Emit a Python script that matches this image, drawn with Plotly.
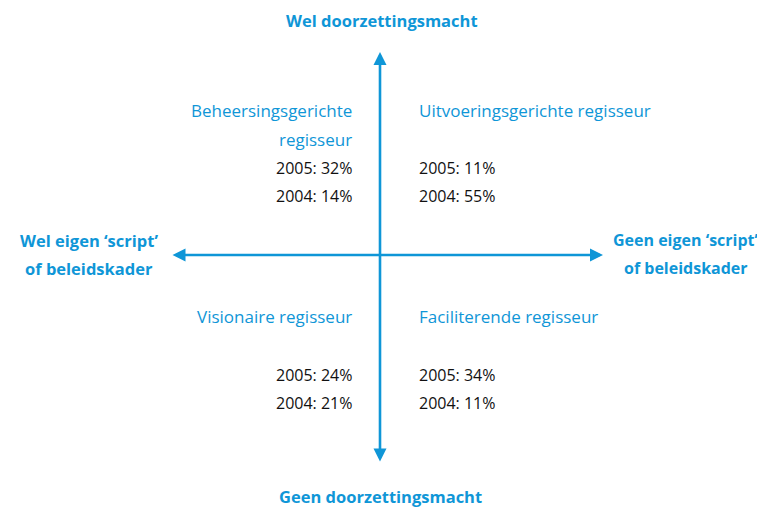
import plotly.graph_objects as go

# --- data ---
quadrants = [["Beheersingsgerichte", "regisseur"], ["Uitvoeringsgerichte regisseur"],
             ["Visionaire regisseur"], ["Faciliterende regisseur"]]
pct_2005 = [32, 11, 24, 34]
pct_2004 = [14, 55, 21, 11]
axis_top = "Wel doorzettingsmacht"
axis_bottom = "Geen doorzettingsmacht"
axis_left = ["Wel eigen ‘script’", "of beleidskader"]
axis_right = ["Geen eigen ‘script’", "of beleidskader"]

BLUE = "#0f96d7"
FONT = "Open Sans"
OFF = 8  # page body margin

fig = go.Figure()
fig.add_trace(go.Scatter(x=[0, 765], y=[0, 507], mode="markers",
                         marker=dict(opacity=0), hoverinfo="skip", showlegend=False))

anns = []
cx, cy = 380, 255
anns.append(dict(x=cx, y=52, ax=cx, ay=463, xref="x", yref="y", axref="x", ayref="y",
                 showarrow=True, arrowhead=2, arrowside="end+start", arrowsize=1.0,
                 arrowwidth=2.6, arrowcolor=BLUE, text=""))
anns.append(dict(x=603, y=cy, ax=171, ay=cy, xref="x", yref="y", axref="x", ayref="y",
                 showarrow=True, arrowhead=2, arrowside="end+start", arrowsize=1.0,
                 arrowwidth=2.6, arrowcolor=BLUE, text=""))

def txt(x, y, t, color, size=15, bold=False, xanchor="center"):
    anns.append(dict(x=x, y=y, xref="x", yref="y", text=f"<b>{t}</b>" if bold else t,
                     showarrow=False, font=dict(family=FONT, size=size, color=color),
                     align=xanchor if xanchor != "center" else "center",
                     xanchor=xanchor, yanchor="middle"))

txt(382, 20, axis_top, BLUE, 16.5, True)
txt(380, 496, axis_bottom, BLUE, 16.5, True)
for i, line in enumerate(axis_left):
    txt(89, 240 + 28 * i, line, BLUE, 16.5, True)
for i, line in enumerate(axis_right):
    txt(686, 240 + 28 * i, line, BLUE, 16, True)

# quadrant positions: (x, anchor, title_y, y2005, y2004)
qpos = [(354, "right", 110, 168, 196),
        (417, "left", 110, 168, 196),
        (354, "right", 316, 375, 403),
        (417, "left", 316, 375, 403)]
for name, v5, v4, (x, anc, ty, y5, y4) in zip(quadrants, pct_2005, pct_2004, qpos):
    for i, line in enumerate(name):
        txt(x, ty + 29 * i, line, BLUE, 17, False, anc)
    txt(x, y5, f"2005: {v5}%", "#111111", 16, False, anc)
    txt(x, y4, f"2004: {v4}%", "#111111", 16, False, anc)

fig.update_layout(
    width=765, height=507, margin=dict(l=0, r=0, t=0, b=0),
    paper_bgcolor="white", plot_bgcolor="white",
    xaxis=dict(range=[OFF, 765 + OFF], visible=False, fixedrange=True),
    yaxis=dict(range=[507 + OFF, OFF], visible=False, fixedrange=True),
    annotations=anns, showlegend=False,
)
fig.write_html("out.html")
